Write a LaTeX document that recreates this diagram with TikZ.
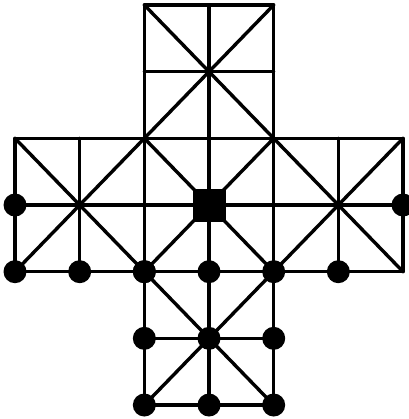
\documentclass[tikz,border=0pt]{standalone}
\usepackage{tikz}

\begin{document}
\begin{tikzpicture}[
  x=1pt, y=-1pt, line width=3.4pt, line cap=round, line join=round,
  goose/.style={circle, fill=black, minimum size=23pt, inner sep=0pt},
  fox/.style={rectangle, fill=black, minimum size=33pt, inner sep=0pt}]
\useasboundingbox (0,0) rectangle (408,419);
% board points, columns a..g and rows 1..7
\foreach \c [count=\i from 0] in {a,b,c,d,e,f,g}
  \foreach \r [count=\j from 0] in {1,...,7}
    \coordinate (\c\r) at ({15+64.67*\i},{5+66.67*\j});
% grid lines
\draw (c1) -- (e1) (c2) -- (e2) (a3) -- (g3) (a4) -- (g4) (a5) -- (g5) (c6) -- (e6) (c7) -- (e7);
\draw (a3) -- (a5) (b3) -- (b5) (c1) -- (c7) (d1) -- (d7) (e1) -- (e7) (f3) -- (f5) (g3) -- (g5);
% diagonals
\draw (c1) -- (e3) (e1) -- (c3);
\draw (a3) -- (c5) (c3) -- (a5);
\draw (c3) -- (e5) (e3) -- (c5);
\draw (e3) -- (g5) (g3) -- (e5);
\draw (c5) -- (e7) (e5) -- (c7);
% pieces
\node[fox] (fx) at (d4) {};
\node[goose] (g1) at (a4) {};
\node[goose] (g2) at (g4) {};
\node[goose] (g3) at (a5) {};
\node[goose] (g4) at (b5) {};
\node[goose] (g5) at (c5) {};
\node[goose] (g6) at (d5) {};
\node[goose] (g7) at (e5) {};
\node[goose] (g8) at (f5) {};
\node[goose] (g9) at (g5) {};
\node[goose] (g10) at (c6) {};
\node[goose] (g11) at (d6) {};
\node[goose] (g12) at (e6) {};
\node[goose] (g13) at (c7) {};
\node[goose] (g14) at (d7) {};
\node[goose] (g15) at (e7) {};
\end{tikzpicture}
\end{document}
